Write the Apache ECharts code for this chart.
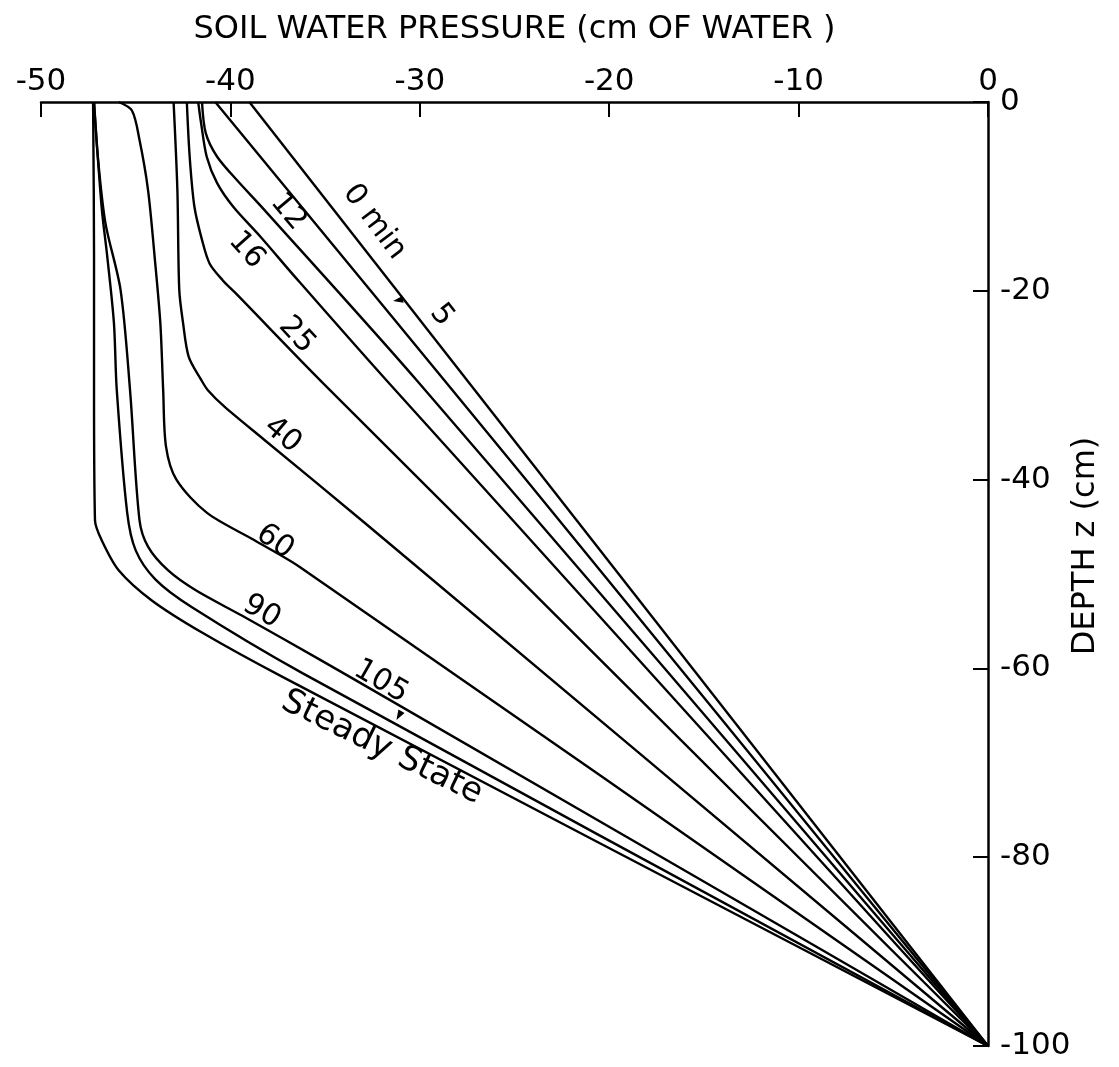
<!DOCTYPE html>
<html>
<head>
<meta charset="utf-8">
<title>Soil water pressure profiles</title>
<script src="https://cdn.jsdelivr.net/npm/echarts@6/dist/echarts.min.js"></script>
<style>
  html, body { margin: 0; padding: 0; background: #fff; }
  #chart { width: 1119px; height: 1067px; }
</style>
</head>
<body>
<div id="chart"></div>
<script>
// Pressure head h (cm of water) against depth z (cm), one profile per elapsed time.
const pressureTicks = [-50, -40, -30, -20, -10, 0];
const depthTicks = [0, -20, -40, -60, -80, -100];

const profile0 = [[-39.0, 0], [0, -100]];
const profile5 = [[-40.8, 0], [-24.4, -40], [0, -100]];
const profile12 = [[-41.5, 0], [-41.3, -3.3], [-40.7, -5.8], [-39.6, -8.4], [-38.4, -11.0],
  [-30.2, -29.4], [0, -100]];
const profile16 = [[-41.7, 0], [-41.55, -2.2], [-41.25, -5.8], [-40.7, -8.6], [-39.85, -11.1],
  [-38.4, -14.3], [-36.6, -18.5], [-31.8, -29.4], [0, -100]];
const profile25 = [[-42.3, 0], [-42.15, -5.8], [-41.9, -11.1], [-41.5, -14.6], [-41.1, -17.1],
  [-40.4, -18.9], [-39.75, -20.2], [-35.1, -29.8], [0, -100]];
const profile40 = [[-43.0, 0], [-42.8, -9.3], [-42.7, -19.9], [-42.5, -23.4], [-42.2, -27.0],
  [-41.55, -29.4], [-41.2, -30.5], [-40.3, -32.3], [-38.2, -35.8], [-32.9, -44.6], [0, -100]];
const profile60 = [[-45.9, 0], [-45.2, -0.9], [-44.8, -4.0], [-44.35, -9.3], [-44.0, -16.4],
  [-43.7, -23.4], [-43.55, -30.5], [-43.4, -36.5], [-42.85, -40.0], [-41.25, -43.5], [-38.75, -46.4],
  [-36.3, -49.3], [0, -100]];
const profile90 = [[-47.2, 0], [-47.0, -5.8], [-46.6, -12.8], [-45.8, -19.9], [-45.3, -30.5],
  [-44.8, -44.3], [-44.35, -47.1], [-43.3, -49.6], [-41.85, -51.7], [-39.4, -54.4], [-37.1, -57.0],
  [-33.6, -61.0], [0, -100]];
const profile105 = [[-47.2, 0], [-46.8, -11.1], [-46.5, -16.4], [-46.15, -23.4], [-46.0, -30.5],
  [-45.45, -43.5], [-45.0, -47.5], [-43.95, -50.6], [-42.05, -53.5], [-36.2, -60.5], [0, -100]];
const profileSteady = [[-47.25, 0], [-47.2, -16.4], [-47.2, -30.5], [-47.15, -44.3], [-46.8, -46.4],
  [-45.9, -49.6], [-44.15, -52.8], [-41.5, -56.2], [-37.25, -60.9], [0, -100]];

const profileNames = ['0 min', '5', '12', '16', '25', '40', '60', '90', '105', 'Steady State'];
const profiles = [profile0, profile5, profile12, profile16, profile25, profile40,
  profile60, profile90, profile105, profileSteady];

// Curve labels, anchored in data units (h, z) and turned along each curve.
const labelText = ['0 min', '5', '12', '16', '25', '40', '60', '90', '105', 'Steady State'];
const labelAnchor = [[-32.4, -12.7], [-28.85, -22.6], [-36.95, -11.65], [-39.15, -15.7], [-36.5, -24.7],
  [-37.25, -35.3], [-37.65, -46.6], [-38.35, -54.0], [-32.05, -61.4], [-32.0, -68.4]];
const labelAngle = [-53, -52, -50, -48, -47, -40, -35, -30, -30, -26];

// Small pointer heads tying the "5" and "105" labels to their curves.
const pointerAt = [[-31.15, -21.0], [-31.1, -65.0]];
const pointerTurn = [100, 150];

const FONT = 'DejaVu Sans';
const INK = '#000';

const lineSeries = profiles.map((p, i) => ({
  name: profileNames[i],
  type: 'line',
  data: p,
  smooth: 0.3,
  symbol: 'none',
  lineStyle: { color: INK, width: 2.4 },
  silent: true,
  z: 2
}));

const labelSeries = {
  type: 'scatter',
  symbolSize: 0,
  silent: true,
  itemStyle: { opacity: 1, color: INK },
  data: labelAnchor.map((a, i) => ({
    value: a,
    label: {
      show: true,
      position: 'inside',
      formatter: labelText[i],
      rotate: labelAngle[i],
      fontFamily: FONT,
      fontSize: i === 9 ? 34 : 30,
      color: INK,
      opacity: 1
    }
  })),
  z: 3
};

const pointerSeries = {
  type: 'scatter',
  symbol: 'triangle',
  symbolSize: [7, 10],
  silent: true,
  itemStyle: { color: INK, opacity: 1 },
  data: pointerAt.map((p, i) => ({ value: p, symbolRotate: pointerTurn[i] })),
  z: 3
};

const chart = echarts.init(document.getElementById('chart'), null, { renderer: 'canvas' });
chart.setOption({
  animation: false,
  backgroundColor: '#fff',
  grid: { left: 41, right: 131, top: 102, bottom: 21, containLabel: false },
  xAxis: {
    type: 'value',
    position: 'top',
    min: pressureTicks[0],
    max: pressureTicks[pressureTicks.length - 1],
    interval: 10,
    name: 'SOIL WATER PRESSURE (cm OF WATER )',
    nameLocation: 'middle',
    nameGap: 56,
    nameMoveOverlap: false,
    nameTextStyle: { fontFamily: FONT, fontSize: 32, color: INK },
    axisLine: { show: true, onZero: false, lineStyle: { color: INK, width: 2.5 } },
    axisTick: { show: true, inside: true, length: 15, lineStyle: { color: INK, width: 2 } },
    axisLabel: { margin: 5, fontFamily: FONT, fontSize: 31, color: INK },
    splitLine: { show: false }
  },
  yAxis: {
    type: 'value',
    position: 'right',
    min: depthTicks[depthTicks.length - 1],
    max: depthTicks[0],
    interval: 20,
    name: 'DEPTH z (cm)',
    nameLocation: 'middle',
    nameRotate: 90,
    nameGap: 82,
    nameMoveOverlap: false,
    nameTextStyle: { fontFamily: FONT, fontSize: 32, color: INK, padding: [0, 0, 0, 56] },
    axisLine: { show: true, onZero: false, lineStyle: { color: INK, width: 2.5 } },
    axisTick: { show: true, inside: true, length: 15, lineStyle: { color: INK, width: 2 } },
    axisLabel: { margin: 12, fontFamily: FONT, fontSize: 31, color: INK },
    splitLine: { show: false }
  },
  series: [...lineSeries, labelSeries, pointerSeries]
});
</script>
</body>
</html>
